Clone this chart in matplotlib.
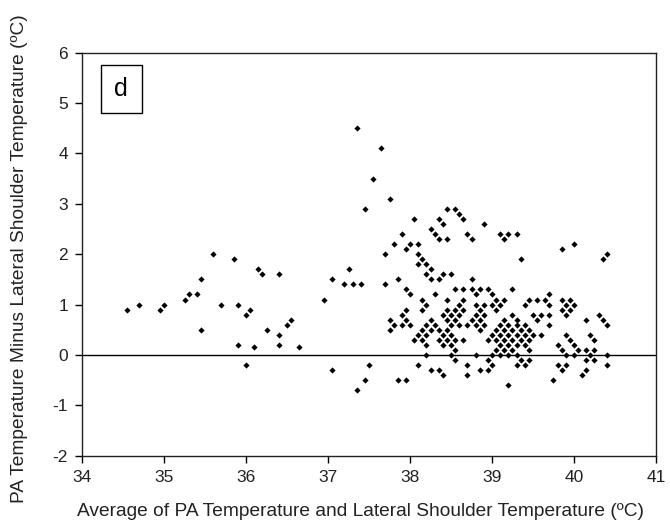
import matplotlib
matplotlib.use("Agg")
import matplotlib.pyplot as plt
from matplotlib.patches import Rectangle

plt.rcParams['font.family'] = ['Liberation Sans', 'DejaVu Sans']
plt.rcParams['axes.unicode_minus'] = False

# Average of PA and lateral shoulder temperature (x) / difference (y)
avg_temp = [
    # left group
    34.55, 34.7, 34.95, 35.0, 35.25, 35.3, 35.4, 35.45, 35.45, 35.6, 35.7, 35.85,
    35.9, 35.9, 36.0, 36.05, 36.0, 36.15, 36.2, 36.25, 36.1, 36.4, 36.4, 36.4,
    36.5, 36.55, 36.65, 36.95, 37.05, 37.05,
    # main group
    37.35, 37.65, 37.55, 37.75, 37.45, 38.45, 38.55,
    38.6,
    38.05, 38.35, 38.65,
    38.4, 38.9,
    38.25,
    37.9, 38.3, 38.7, 39.1, 39.2, 39.3,
    38.35, 38.45, 38.75, 39.15,
    37.8, 38.0, 38.1, 40.0,
    37.95, 39.85,
    37.7, 38.1, 40.4,
    38.15, 39.35, 40.35,
    38.1, 38.2,
    37.25, 38.25,
    38.2, 38.4, 38.5,
    37.85, 38.25, 38.35, 38.75,
    37.2, 37.3, 37.4, 37.7,
    37.95, 38.55, 38.65, 38.75, 38.85, 38.95, 39.25,
    38.0, 38.3, 38.8, 39.0, 39.7,
    38.15, 38.45, 38.65, 39.05, 39.15, 39.45, 39.55, 39.65, 39.85, 39.95,
    38.2, 38.6, 38.8, 38.9, 39.0, 39.1, 39.4, 39.7, 39.9, 40.0,
    37.95, 38.15, 38.45, 38.55, 38.65, 38.85, 39.05, 39.85, 39.95,
    37.9, 38.4, 38.5, 38.6, 38.8, 38.9, 39.25, 39.5, 39.6, 39.7, 39.9, 40.3,
    37.75, 37.95, 38.25, 38.45, 38.55, 38.75, 38.85, 39.15, 39.3, 39.55, 40.15, 40.35,
    37.8, 37.9, 38.0, 38.2, 38.3, 38.5, 38.6, 38.7, 38.8, 38.9, 39.1, 39.2, 39.3,
    39.4, 39.7, 40.4,
    37.75, 38.15, 38.25, 38.35, 38.45, 38.85, 39.05, 39.15, 39.25, 39.35, 39.45,
    38.1, 38.2, 38.4, 38.5, 39.0, 39.1, 39.2, 39.3, 39.4, 39.5, 39.6, 39.9, 40.2,
    38.05, 38.15, 38.35, 38.45, 38.55, 38.65, 38.95, 39.05, 39.15, 39.25, 39.35,
    39.45, 39.95, 40.25,
    38.2, 38.4, 38.5, 39.1, 39.2, 39.3, 39.4, 39.8, 40.0,
    38.55, 39.05, 39.15, 39.25, 39.45, 39.85, 40.05, 40.15, 40.25,
    38.2, 38.5, 38.8, 39.0, 39.1, 39.2, 39.3, 39.9, 40.0, 40.2, 40.4,
    38.55, 38.95, 39.35, 39.45, 40.15, 40.25,
    37.5, 38.1, 38.7, 39.0, 39.3, 39.4, 39.8, 39.9, 40.4,
    38.25, 38.35, 38.85, 38.95, 39.85, 40.15,
    38.4, 38.7, 40.1,
    37.45, 37.85, 37.95, 39.75,
    39.2,
    37.35,
]
diff_temp = [
    0.9, 1.0, 0.9, 1.0, 1.1, 1.2, 1.2, 1.5, 0.5, 2.0, 1.0, 1.9,
    1.0, 0.2, 0.8, 0.9, -0.2, 1.7, 1.6, 0.5, 0.15, 1.6, 0.4, 0.2,
    0.6, 0.7, 0.15, 1.1, 1.5, -0.3,
    4.5, 4.1, 3.5, 3.1, 2.9, 2.9, 2.9,
    2.8,
    2.7, 2.7, 2.7,
    2.6, 2.6,
    2.5,
    2.4, 2.4, 2.4, 2.4, 2.4, 2.4,
    2.3, 2.3, 2.3, 2.3,
    2.2, 2.2, 2.2, 2.2,
    2.1, 2.1,
    2.0, 2.0, 2.0,
    1.9, 1.9, 1.9,
    1.8, 1.8,
    1.7, 1.7,
    1.6, 1.6, 1.6,
    1.5, 1.5, 1.5, 1.5,
    1.4, 1.4, 1.4, 1.4,
    1.3, 1.3, 1.3, 1.3, 1.3, 1.3, 1.3,
    1.2, 1.2, 1.2, 1.2, 1.2,
    1.1, 1.1, 1.1, 1.1, 1.1, 1.1, 1.1, 1.1, 1.1, 1.1,
    1.0, 1.0, 1.0, 1.0, 1.0, 1.0, 1.0, 1.0, 1.0, 1.0,
    0.9, 0.9, 0.9, 0.9, 0.9, 0.9, 0.9, 0.9, 0.9,
    0.8, 0.8, 0.8, 0.8, 0.8, 0.8, 0.8, 0.8, 0.8, 0.8, 0.8, 0.8,
    0.7, 0.7, 0.7, 0.7, 0.7, 0.7, 0.7, 0.7, 0.7, 0.7, 0.7, 0.7,
    0.6, 0.6, 0.6, 0.6, 0.6, 0.6, 0.6, 0.6, 0.6, 0.6, 0.6, 0.6, 0.6,
    0.6, 0.6, 0.6,
    0.5, 0.5, 0.5, 0.5, 0.5, 0.5, 0.5, 0.5, 0.5, 0.5, 0.5,
    0.4, 0.4, 0.4, 0.4, 0.4, 0.4, 0.4, 0.4, 0.4, 0.4, 0.4, 0.4, 0.4,
    0.3, 0.3, 0.3, 0.3, 0.3, 0.3, 0.3, 0.3, 0.3, 0.3, 0.3,
    0.3, 0.3, 0.3,
    0.2, 0.2, 0.2, 0.2, 0.2, 0.2, 0.2, 0.2, 0.2,
    0.1, 0.1, 0.1, 0.1, 0.1, 0.1, 0.1, 0.1, 0.1,
    0.0, 0.0, 0.0, 0.0, 0.0, 0.0, 0.0, 0.0, 0.0, 0.0, 0.0,
    -0.1, -0.1, -0.1, -0.1, -0.1, -0.1,
    -0.2, -0.2, -0.2, -0.2, -0.2, -0.2, -0.2, -0.2, -0.2,
    -0.3, -0.3, -0.3, -0.3, -0.3, -0.3,
    -0.4, -0.4, -0.4,
    -0.5, -0.5, -0.5, -0.5,
    -0.6,
    -0.7,
]

x_ticks = [34, 35, 36, 37, 38, 39, 40, 41]
y_ticks = [-2, -1, 0, 1, 2, 3, 4, 5, 6]
panel_label = "d"
x_label = "Average of PA Temperature and Lateral Shoulder Temperature (ºC)"
y_label = "PA Temperature Minus Lateral Shoulder Temperature (ºC)"

fig = plt.figure(figsize=(6.70, 5.31), dpi=100)
ax = fig.add_axes([0.1224, 0.1418, 0.8567, 0.759])

ax.scatter(avg_temp, diff_temp, marker='D', s=10, color='black', linewidths=0, zorder=3)
ax.axhline(0, color='black', lw=1.0, zorder=2)

ax.set_xlim(34, 41)
ax.set_ylim(-2, 6)
ax.set_xticks(x_ticks)
ax.set_yticks(y_ticks)
ax.tick_params(direction='out', length=5, width=1, labelsize=12.5, colors='black',
               pad=5, labelcolor='#222222')
for sp in ax.spines.values():
    sp.set_linewidth(1.0)
    sp.set_color('#222222')

ax.set_xlabel(x_label, fontsize=13.8, color='#222222')
ax.set_ylabel(y_label, fontsize=13.8, color='#222222')
ax.xaxis.set_label_coords(0.485, -0.118)
ax.yaxis.set_label_coords(-0.094, 0.49)

ax.add_patch(Rectangle((0.0331, 0.8496), 0.0709, 0.12, transform=ax.transAxes,
                       facecolor='white', edgecolor='black', lw=1.0, zorder=4))
ax.text(0.0685, 0.9096, panel_label, transform=ax.transAxes, fontsize=18,
        ha='center', va='center', zorder=5)

fig.savefig("out.png", dpi=100)
